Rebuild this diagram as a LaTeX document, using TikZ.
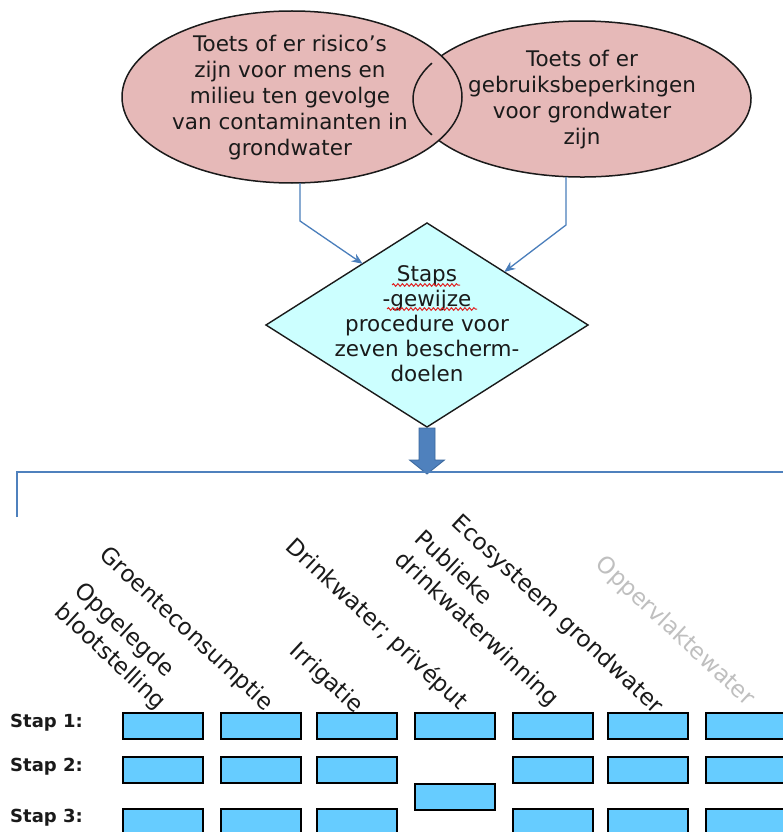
\documentclass[tikz,border=0pt]{standalone}
\usepackage{fontspec}
\setmainfont{DejaVu Sans}
\usetikzlibrary{shapes.geometric,arrows.meta,calc,decorations.pathmorphing}
\definecolor{ovalfill}{HTML}{E6B9B8}
\definecolor{diafill}{HTML}{CCFFFF}
\definecolor{boxfill}{HTML}{66CCFF}
\definecolor{linkblue}{HTML}{4A7EBB}
\definecolor{blockblue}{HTML}{4F81BD}
\definecolor{blockedge}{HTML}{3A679C}
\definecolor{labelgrey}{HTML}{BFBFBF}
\definecolor{ink}{HTML}{1A1A1A}
\definecolor{spellred}{HTML}{E02020}

\begin{document}
\begin{tikzpicture}[x=1pt,y=1pt,
  ovaltext/.style={font=\fontsize{21.5}{26}\selectfont, align=center, inner sep=0, text=ink},
  diatext/.style={font=\fontsize{21.5}{25}\selectfont, align=center, inner sep=0, text=ink},
  link/.style={draw=linkblue, line width=1.3pt, -{Stealth[length=11pt,width=9pt]}},
  stapbox/.style={draw=black, line width=1.6pt, fill=boxfill, minimum width=80pt, minimum height=26pt, inner sep=0},
  staplabel/.style={font=\bfseries\fontsize{18}{20}\selectfont, anchor=west, inner sep=0, text=ink},
  goal/.style={font=\fontsize{23}{29}\selectfont, rotate=-43, anchor=west, align=left, inner sep=0, text=ink},
  squiggle/.style={draw=spellred, line width=1pt, decorate, decoration={snake, amplitude=1.3pt, segment length=4.5pt}},
  outline/.style={line width=1.5pt, draw=ink},
]
\useasboundingbox (0,0) rectangle (783,-832);
\fill[white] (0,0) rectangle (783,-832);

% the two overlapping ovals
\coordinate (Lc) at (292,-97);
\coordinate (Rc) at (582,-99);
\fill[ovalfill] (Lc) ellipse[x radius=170pt, y radius=86pt];
\fill[ovalfill] (Rc) ellipse[x radius=169pt, y radius=78pt];
\draw[outline] (Lc) ellipse[x radius=170pt, y radius=86pt];
\draw[outline] ([shift={(-147.9:169pt and 78pt)}]Rc)
  arc[start angle=-147.9, end angle=146.4, x radius=169pt, y radius=78pt];
\draw[outline] ([shift={(152.6:169pt and 78pt)}]Rc)
  arc[start angle=152.6, end angle=207.4, x radius=169pt, y radius=78pt];

\node[ovaltext] (Lt) at (290,-98) {Toets of er risico’s\\zijn voor mens en\\milieu ten gevolge\\van contaminanten in\\grondwater};
\node[ovaltext] (Rt) at (582,-100) {Toets of er\\gebruiksbeperkingen\\voor grondwater\\zijn};

% decision diamond
\node[diamond, draw=ink, line width=1.4pt, fill=diafill, minimum width=322pt, minimum height=204pt, inner sep=0, outer sep=0] (D) at (427,-325) {};
\node[diatext] (Dt) at (427,-324) {Staps\\-gewijze\\procedure voor\\zeven bescherm-\\doelen};
\draw[squiggle] (392,-285) -- (460,-285);
\draw[squiggle] (387,-309) -- (477,-309);

% connectors from the ovals into the diamond
\coordinate (Lfoot) at (300,-183);
\coordinate (Lbend) at (300,-221);
\coordinate (Rfoot) at (566,-177);
\coordinate (Rbend) at (566,-225);
\draw[link] (Lfoot) -- (Lbend) -- ($(D.west)!0.6!(D.north)$);
\draw[link] (Rfoot) -- (Rbend) -- ($(D.east)!0.52!(D.north)$);

% block arrow and distribution line
\coordinate (ds) at (D.south);
\draw[fill=blockblue, draw=blockedge, line width=0.8pt]
  ($(ds)+(-8,-1)$) -- ($(ds)+(8,-1)$) -- ($(ds)+(8,-33)$) -- ($(ds)+(17.5,-33)$)
  -- ($(ds)+(0,-47)$) -- ($(ds)+(-17.5,-33)$) -- ($(ds)+(-8,-33)$) -- cycle;
\coordinate (busL) at (17,-472);
\coordinate (busR) at (783,-472);
\coordinate (busD) at (17,-517);
\draw[blockblue, line width=1.5pt] (busD) -- (busL) -- (busR);

% protection goals
\node[goal] (g1) at (68,-598) {Opgelegde\\blootstelling};
\node[goal] (g2) at (103,-552) {Groenteconsumptie};
\node[goal] (g3) at (293,-648) {Irrigatie};
\node[goal] (g4) at (289,-543) {Drinkwater; privéput};
\node[goal] (g5) at (408,-546) {Publieke\\drinkwaterwinning};
\node[goal] (g6) at (455,-520) {Ecosysteem grondwater};
\node[goal, text=labelgrey] (g7) at (599,-561) {Oppervlaktewater};

% step rows
\node[staplabel] (st1) at (10,-723) {Stap 1:};
\node[staplabel] (st2) at (10,-767) {Stap 2:};
\node[staplabel] (st3) at (10,-818) {Stap 3:};
\foreach \c/\x in {1/163,2/261,3/357,4/455,5/553,6/648,7/746} {
  \node[stapbox] (a\c) at (\x,-726) {};
}
\foreach \c/\x in {1/163,2/261,3/357,5/553,6/648,7/746} {
  \node[stapbox] (b\c) at (\x,-770) {};
  \node[stapbox] (c\c) at (\x,-822) {};
}
\node[stapbox] (b4) at (455,-797) {};
\end{tikzpicture}
\end{document}
